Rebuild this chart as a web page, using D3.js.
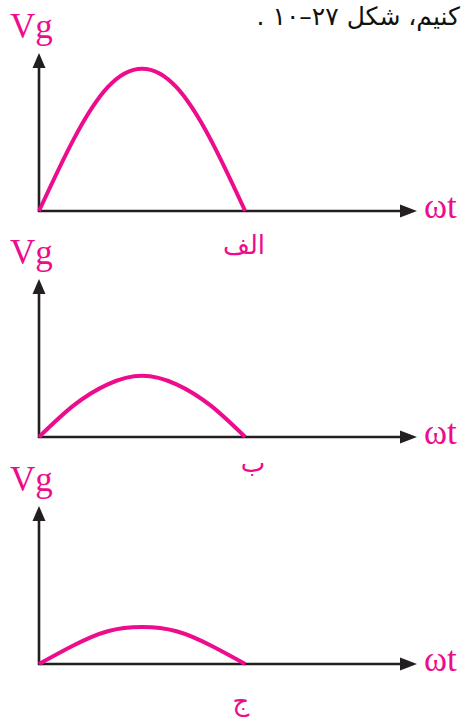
<!DOCTYPE html>
<html>
<head>
<meta charset="utf-8">
<script src="https://cdn.jsdelivr.net/npm/d3@7"></script>
<style>
  html, body { margin: 0; padding: 0; background: #fff; }
  svg { display: block; }
</style>
</head>
<body>
<script>
// ---- data ----
const headerText = "کنیم، شکل ۲۷–۱۰ .";
const panelLabels = ["الف", "ب", "ج"];
const yAxisLabel = "Vg";
const xAxisLabel = "ωt";
const phase = [0, 30, 60, 90, 120, 150, 180];
// Vg (relative to panel "الف" peak)
const seriesA = [0, 0.50, 0.87, 1.00, 0.87, 0.50, 0];
const seriesB = [0, 0.22, 0.37, 0.43, 0.37, 0.22, 0];
const seriesC = [0, 0.13, 0.23, 0.26, 0.23, 0.13, 0];
const allSeries = [seriesA, seriesB, seriesC];
const xMax = 330;   // axis extent in ωt (degrees)
const yMax = 1.11;  // axis extent in Vg

// ---- layout ----
const W = 464, H = 722;
const pink = "#ec0c8c";
const axisColor = "#231f20";
const baseY = [211, 437, 664];
const axisLen = 158;

const svg = d3.select("body").append("svg").attr("width", W).attr("height", H);

const x = d3.scaleLinear().domain([0, xMax]).range([39, 417]);

// header
svg.append("text")
  .attr("x", 460).attr("y", 25)
  .attr("direction", "rtl")
  .attr("text-anchor", "start")
  .style("font-family", "'DejaVu Sans', sans-serif")
  .style("font-size", "25px")
  .attr("fill", "#111")
  .text(headerText);

allSeries.forEach((vals, i) => {
  const g = svg.append("g");
  const y = d3.scaleLinear().domain([0, yMax]).range([baseY[i], baseY[i] - axisLen]);
  const x0 = x(0), y0 = y(0);
  const xEnd = x(xMax), yEnd = y(yMax);
  const ah = 15, aw = 6.5;

  // y axis
  g.append("line").attr("x1", x0).attr("y1", y0 + 1).attr("x2", x0).attr("y2", yEnd + ah - 1)
    .attr("stroke", axisColor).attr("stroke-width", 2.6);
  g.append("path")
    .attr("d", `M${x0},${yEnd} L${x0 - aw},${yEnd + ah} L${x0 + aw},${yEnd + ah} Z`)
    .attr("fill", axisColor);
  // x axis
  g.append("line").attr("x1", x0 - 1).attr("y1", y0).attr("x2", xEnd - ah + 1).attr("y2", y0)
    .attr("stroke", axisColor).attr("stroke-width", 2.6);
  g.append("path")
    .attr("d", `M${xEnd},${y0} L${xEnd - ah - 2},${y0 - aw} L${xEnd - ah - 2},${y0 + aw} Z`)
    .attr("fill", axisColor);

  // curve
  const line = d3.line()
    .x((d, j) => x(phase[j]))
    .y(d => y(d))
    .curve(d3.curveNatural);
  g.append("path").datum(vals)
    .attr("d", line)
    .attr("fill", "none")
    .attr("stroke", pink)
    .attr("stroke-width", 4)
    .attr("stroke-linecap", "butt");

  // axis labels
  g.append("text").attr("x", 10).attr("y", yEnd - 15)
    .style("font-family", "'Liberation Serif', serif").style("font-size", "35px")
    .attr("fill", pink).text(yAxisLabel);
  g.append("text").attr("x", 424).attr("y", y0 + 7)
    .style("font-family", "'Liberation Serif', serif").style("font-size", "35px")
    .attr("fill", pink).text(xAxisLabel);

  // panel label
  const labelY = [254, 472, 710][i];
  const labelX = [244, 253, 241][i];
  g.append("text").attr("x", labelX).attr("y", labelY)
    .attr("text-anchor", "middle")
    .style("font-family", "'DejaVu Sans', sans-serif").style("font-size", "26px")
    .attr("fill", pink).text(panelLabels[i]);
});
</script>
</body>
</html>
